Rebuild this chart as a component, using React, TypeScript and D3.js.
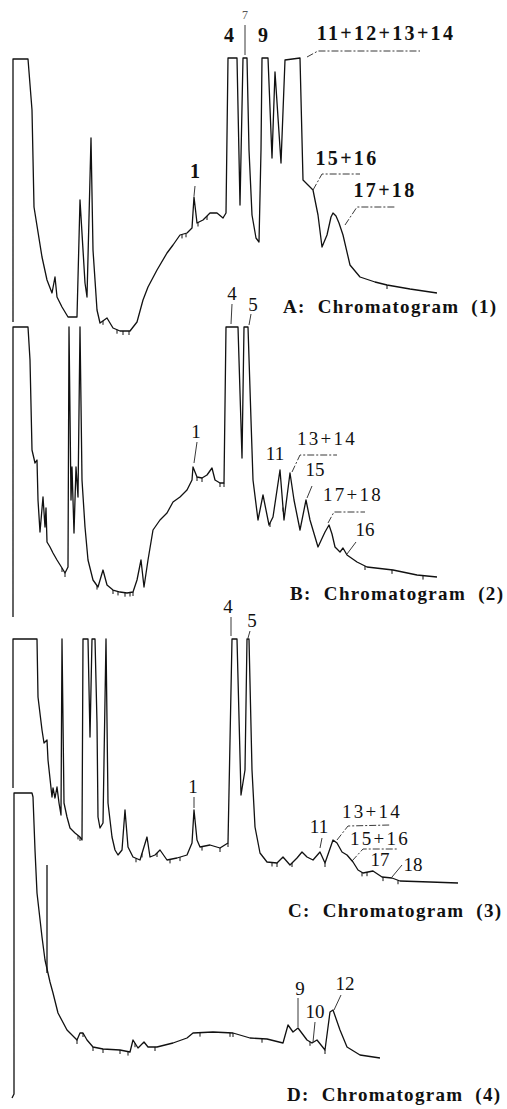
import React from "react";
import * as d3 from "d3";

type Pt = [number, number];

// retention time (min), detector response (arbitrary units, clipped at ~300)
const traceA: Pt[] = [
  [0, 13], [0, 276], [1.5, 276], [1.9, 225], [2.1, 128], [2.9, 78], [3.4, 55], [3.9, 42],
  [4.2, 58], [4.4, 38], [4.9, 28], [5.5, 18], [6.4, 18], [6.7, 135], [7.2, 52], [7.4, 38],
  [7.8, 197], [8.0, 85], [8.4, 25], [8.7, 12], [9.4, 17], [10.0, 7], [10.7, 4], [11.7, 4],
  [12.4, 13], [13.0, 35], [13.5, 48], [14.4, 65], [15.4, 82], [16.0, 90], [16.7, 100],
  [17.4, 102], [17.9, 107], [18.1, 138], [18.4, 112], [19.0, 115], [19.7, 122], [20.4, 122],
  [21.0, 117], [21.3, 122], [21.5, 277], [22.4, 277], [22.7, 130], [23.0, 277], [23.4, 277],
  [23.6, 185], [23.9, 120], [24.3, 97], [24.6, 93], [24.8, 185], [24.9, 277], [25.5, 277],
  [25.9, 177], [26.2, 263], [26.8, 172], [27.2, 275], [28.7, 277], [29.0, 155], [29.5, 150],
  [30.0, 145], [30.5, 120], [30.9, 88], [31.4, 100], [31.8, 118], [32.0, 122], [32.3, 119],
  [32.6, 112], [33.0, 100], [33.7, 70], [34.7, 58], [36.2, 53], [37.4, 50], [39.7, 46], [42.4, 42],
];

const traceB: Pt[] = [
  [0, 3], [0, 293], [1.5, 293], [1.7, 260], [1.9, 170], [2.2, 157], [2.4, 160], [2.5, 120],
  [2.7, 88], [3.0, 123], [3.2, 93], [3.3, 112], [3.4, 78], [3.7, 73], [4.0, 67], [4.4, 60],
  [4.9, 52], [5.2, 47], [5.5, 53], [5.6, 293], [5.8, 120], [5.9, 153], [6.1, 87], [6.3, 153],
  [6.5, 123], [6.7, 293], [6.9, 140], [7.2, 93], [7.5, 60], [8.0, 40], [8.5, 33], [9.0, 50],
  [9.4, 35], [10.0, 30], [10.7, 28], [11.4, 27], [12.0, 28], [12.4, 40], [12.8, 60], [13.1, 33],
  [13.5, 60], [14.0, 90], [14.7, 100], [15.4, 107], [16.0, 118], [16.7, 123], [17.4, 130],
  [17.9, 140], [18.0, 153], [18.4, 143], [18.9, 142], [19.4, 145], [19.9, 152], [20.2, 140],
  [20.7, 137], [21.1, 137], [21.3, 293], [22.5, 293], [22.9, 162], [23.1, 293], [23.5, 293],
  [23.8, 200], [24.0, 140], [24.5, 100], [25.0, 125], [25.6, 95], [26.0, 103], [26.7, 150],
  [27.1, 100], [27.7, 147], [28.1, 120], [28.7, 90], [29.3, 120], [29.7, 100], [30.5, 73],
  [31.2, 88], [31.6, 95], [31.9, 86], [32.2, 73], [32.7, 68], [33.0, 72], [33.4, 65], [34.4, 58],
  [35.4, 53], [38.0, 50], [40.4, 45], [42.4, 43],
];

const traceC: Pt[] = [
  [0, 102], [0, 251], [2.4, 251], [2.5, 193], [2.9, 160], [3.1, 147], [3.4, 150], [3.5, 130],
  [3.9, 93], [4.0, 102], [4.2, 92], [4.4, 103], [4.6, 87], [4.8, 75], [4.9, 251], [5.1, 87],
  [5.4, 73], [5.7, 62], [6.2, 57], [6.7, 53], [6.9, 50], [7.0, 251], [7.5, 251], [7.7, 153],
  [7.9, 251], [8.2, 251], [8.4, 167], [8.5, 73], [8.7, 62], [9.0, 67], [9.3, 251], [9.5, 87],
  [9.9, 53], [10.2, 40], [10.5, 35], [10.9, 40], [11.2, 80], [11.5, 43], [12.0, 33], [12.7, 30],
  [13.4, 53], [13.7, 33], [14.2, 35], [14.7, 40], [15.4, 30], [16.4, 32], [17.4, 35], [17.9, 47],
  [18.1, 80], [18.4, 50], [18.7, 43], [19.7, 45], [20.7, 42], [21.5, 47], [21.9, 251], [22.4, 251],
  [22.8, 95], [23.2, 120], [23.4, 251], [23.6, 251], [23.9, 120], [24.2, 63], [24.7, 37],
  [25.4, 28], [26.4, 27], [27.0, 33], [27.7, 25], [28.4, 32], [28.9, 38], [29.4, 33], [30.0, 30],
  [30.7, 38], [31.2, 27], [32.0, 50], [32.4, 47], [32.9, 38], [33.4, 35], [34.0, 28], [34.5, 20],
  [35.0, 17], [36.0, 19], [36.9, 13], [37.9, 12], [38.7, 9], [41.7, 8], [44.5, 7],
];

const traceD: Pt[] = [
  [-0.1, 2], [0.1, 6], [0.1, 307], [1.9, 307], [2.0, 303], [2.2, 250], [2.4, 207], [2.9, 163],
  [3.2, 140], [3.7, 118], [4.0, 107], [4.5, 87], [5.4, 70], [6.4, 60], [6.7, 67], [7.0, 67],
  [7.4, 60], [8.0, 53], [9.0, 51], [10.7, 50], [11.7, 48], [12.0, 60], [12.5, 52], [13.1, 58],
  [13.5, 53], [14.4, 53], [16.0, 57], [17.4, 62], [18.0, 67], [20.0, 68], [22.0, 67], [23.7, 62],
  [25.4, 61], [27.0, 57], [27.5, 75], [28.0, 68], [28.5, 72], [29.4, 60], [29.9, 57], [30.4, 60],
  [31.2, 50], [31.7, 88], [32.0, 90], [32.7, 70], [33.4, 53], [34.7, 45], [36.7, 42],
];
const spikeD: Pt[] = [[3.4, 235], [3.4, 127]];

// integrator marks (retention time, min)
const ticksA = [9.0, 10.4, 11.0, 11.6, 16.9, 17.3, 18.5, 19.4, 37.4];
const ticksB = [4.9, 5.2, 8.4, 10.0, 10.5, 11.2, 11.7, 12.0, 18.4, 18.9, 20.7, 21.1, 25.7, 27.0, 35.2, 37.9, 41.0];
const ticksC = [6.5, 6.7, 12.3, 12.9, 14.4, 15.7, 16.7, 18.9, 20.7, 21.5, 25.9, 26.4, 27.9, 31.2, 34.9, 35.4, 37.0, 38.5];
const ticksD = [6.4, 7.0, 8.0, 9.0, 10.7, 11.5, 12.2, 14.2, 18.7, 21.7, 22.0, 24.9, 29.7, 31.2];

// peak labels: text, retention time, response
const peaksA: [string, number, number][] = [
  ["4", 21.6, 293], ["9", 25.0, 293], ["11+12+13+14", 37.3, 295],
  ["1", 18.2, 157], ["15+16", 33.4, 170], ["17+18", 37.2, 138],
];
const faintA: [string, number, number][] = [["7", 23.2, 316]];
const peaksB: [string, number, number][] = [
  ["4", 21.9, 320], ["5", 24.0, 309], ["1", 18.3, 182], ["11", 26.2, 160], ["13+14", 31.4, 175],
  ["15", 30.2, 144], ["17+18", 34.0, 119], ["16", 35.2, 84],
];
const peaksC: [string, number, number][] = [
  ["4", 21.5, 277], ["5", 23.9, 263], ["1", 18.0, 97], ["11", 30.6, 57], ["13+14", 35.9, 72],
  ["15+16", 36.7, 45], ["17", 36.7, 24], ["18", 40.0, 19],
];
const peaksD: [string, number, number][] = [
  ["9", 28.7, 105], ["10", 30.2, 82], ["12", 33.2, 110],
];

const leadersA: Pt[][] = [
  [[23.2, 310], [23.2, 280]],
  [[29.4, 278], [30.5, 284], [40.7, 284]],
  [[18.2, 149], [18.1, 139]],
  [[30.0, 145], [30.9, 161], [34.7, 161]],
  [[33.2, 110], [34.4, 128], [38.3, 128]],
];
const leadersB: Pt[][] = [
  [[21.9, 316], [21.8, 296]],
  [[23.8, 306], [23.6, 295]],
  [[18.4, 178], [18.1, 157]],
  [[27.9, 148], [28.7, 165], [32.4, 165]],
  [[29.4, 122], [29.9, 134]],
  [[31.5, 97], [32.1, 108], [35.2, 108]],
  [[33.4, 66], [34.3, 78]],
];
const leadersC: Pt[][] = [
  [[21.8, 273], [21.8, 254]],
  [[23.7, 259], [23.5, 252]],
  [[18.1, 93], [18.1, 82]],
  [[30.9, 52], [30.7, 42]],
  [[32.4, 50], [33.5, 64], [37.7, 65]],
  [[33.9, 29], [35.0, 41], [38.4, 41]],
  [[37.9, 13], [38.9, 25]],
];
const leadersD: Pt[][] = [
  [[28.5, 102], [28.5, 73]],
  [[30.2, 78], [30.0, 58]],
  [[32.8, 105], [32.1, 90]],
];

const titles = ["A:  Chromatogram  (1)", "B:  Chromatogram  (2)", "C:  Chromatogram  (3)", "D:  Chromatogram  (4)"];

const serif = "'Times New Roman', 'Liberation Serif', Times, serif";

const valueAt = (trace: Pt[], t: number) => {
  for (let i = 0; i < trace.length - 1; i++) {
    const [t0, s0] = trace[i];
    const [t1, s1] = trace[i + 1];
    if (t1 > t0 && t >= t0 && t <= t1) return s0 + ((t - t0) / (t1 - t0)) * (s1 - s0);
  }
  return trace[trace.length - 1][1];
};

export default function App() {
  const width = 507;
  const height = 1109;
  const x = d3.scaleLinear().domain([0, 45]).range([13, 463]);

  const panels = [
    { trace: traceA, extra: [] as Pt[][], ticks: ticksA, peaks: peaksA, faint: faintA, leaders: leadersA, bottom: 335, bold: true, titleX: 283, titleY: 313 },
    { trace: traceB, extra: [] as Pt[][], ticks: ticksB, peaks: peaksB, faint: [], leaders: leadersB, bottom: 620, bold: false, titleX: 290, titleY: 600 },
    { trace: traceC, extra: [] as Pt[][], ticks: ticksC, peaks: peaksC, faint: [], leaders: leadersC, bottom: 890, bold: false, titleX: 288, titleY: 917 },
    { trace: traceD, extra: [spikeD], ticks: ticksD, peaks: peaksD, faint: [], leaders: leadersD, bottom: 1100, bold: false, titleX: 287, titleY: 1101 },
  ];

  return (
    <svg width={width} height={height} style={{ position: "absolute", left: 0, top: 0, background: "#fff" }}>
      {panels.map((p, i) => {
        const y = d3.scaleLinear().domain([0, 300]).range([p.bottom, p.bottom - 300]);
        const line = d3.line<Pt>().x((d) => x(d[0])).y((d) => y(d[1]));
        return (
          <g key={i}>
            <path d={line(p.trace) ?? ""} fill="none" stroke="#111" strokeWidth={1.3} strokeLinejoin="round" />
            {p.extra.map((seg, k) => (
              <path key={k} d={line(seg) ?? ""} fill="none" stroke="#111" strokeWidth={1.3} />
            ))}
            {p.ticks.map((t, k) => {
              const v = y(valueAt(p.trace, t));
              return <line key={k} x1={x(t)} x2={x(t)} y1={v} y2={v + 4} stroke="#111" strokeWidth={1} />;
            })}
            {p.leaders.map((ld, k) => (
              <path key={k} d={line(ld) ?? ""} fill="none" stroke="#222" strokeWidth={0.9}
                strokeDasharray={ld.length > 2 ? "7 2 2 2" : undefined} />
            ))}
            {p.peaks.map(([label, t, s], k) => (
              <text key={k} x={x(t)} y={y(s)} textAnchor="middle" fontFamily={serif}
                fontSize={p.bold ? 20 : 19} fontWeight={p.bold ? "bold" : "normal"}
                letterSpacing={label.length > 2 ? 2.3 : 0} fill="#111">
                {label}
              </text>
            ))}
            {p.faint.map(([label, t, s], k) => (
              <text key={k} x={x(t)} y={y(s)} textAnchor="middle" fontFamily={serif}
                fontSize={12} fill="#555">
                {label}
              </text>
            ))}
            <text x={p.titleX} y={p.titleY} fontFamily={serif}
              fontSize={19} fontWeight="bold" fill="#111" textLength={213} lengthAdjust="spacing"
              style={{ whiteSpace: "pre" }}>
              {titles[i]}
            </text>
          </g>
        );
      })}
    </svg>
  );
}
